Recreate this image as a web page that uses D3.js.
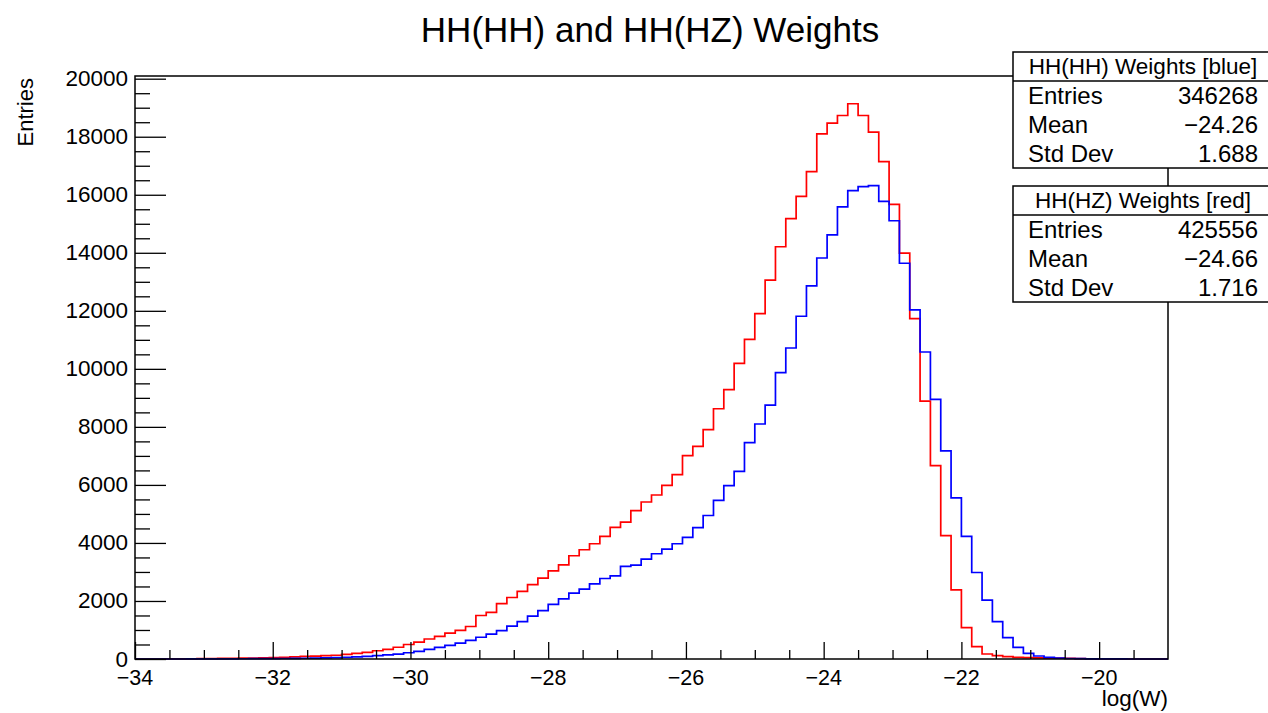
<!DOCTYPE html>
<html>
<head>
<meta charset="utf-8">
<script src="https://cdn.jsdelivr.net/npm/d3@7"></script>
<style>
  body { margin: 0; background: #fff; }
  svg { display: block; }
  text { font-family: "Liberation Sans", Arial, Helvetica, sans-serif; fill: #000; }
</style>
</head>
<body>
<svg id="plot" width="1268" height="713"></svg>
<script>
// histogram binning (log(W) axis)
var xLow = -34, xHigh = -19, nBins = 100;

// HH(HH) weights, blue
var hhCounts = [
	0, 0, 0, 0, 0, 2, 3, 4, 5, 6,
	8, 10, 12, 14, 17, 20, 25, 30, 36, 44,
	60, 75, 92, 115, 140, 170, 215, 265, 330, 400,
	470, 545, 640, 750, 860, 980, 1130, 1290, 1480, 1670,
	1880, 2073, 2268, 2406, 2591, 2775, 2867, 3189, 3236, 3443,
	3627, 3789, 3972, 4191, 4530, 4945, 5469, 5976, 6465, 7460,
	8100, 8750, 9868, 10719, 11813, 12861, 13820, 14615, 15580, 16143,
	16281, 16316, 15775, 15105, 13640, 12031, 10580, 8946, 7174, 5550,
	4225, 2981, 2027, 1289, 737, 403, 196, 104, 55, 30,
	18, 10, 6, 3, 2, 1, 0, 0, 0, 0
];

// HH(HZ) weights, red
var hzCounts = [
	0, 0, 0, 2, 4, 6, 10, 14, 20, 25,
	30, 35, 42, 48, 55, 75, 88, 100, 115, 130,
	160, 195, 230, 285, 335, 405, 500, 580, 690, 780,
	890, 990, 1120, 1500, 1610, 1910, 2120, 2330, 2560, 2790,
	3040, 3247, 3558, 3765, 3972, 4225, 4536, 4720, 5112, 5411,
	5653, 5987, 6356, 7012, 7330, 7905, 8625, 9285, 10190, 11019,
	11906, 13057, 14208, 15176, 15947, 16799, 18100, 18469, 18732, 19136,
	18732, 18158, 17145, 15671, 13990, 11734, 8888, 6667, 4249, 2383,
	1082, 426, 173, 115, 81, 55, 45, 38, 32, 28,
	22, 15, 8, 4, 2, 1, 0, 0, 0, 0
];

var xMajorTicks = [-34, -32, -30, -28, -26, -24, -22, -20];
var yMajorTicks = [0, 2000, 4000, 6000, 8000, 10000, 12000, 14000, 16000, 18000, 20000];
var yMax = 20093;

var statLabels = ["Entries", "Mean", "Std Dev"];
var hhStats = ["346268", "\u221224.26", "1.688"];
var hzStats = ["425556", "\u221224.66", "1.716"];

var titleText = "HH(HH) and HH(HZ) Weights";

function whenDocumentLoaded(action) {
	if (document.readyState === "loading") {
		document.addEventListener("DOMContentLoaded", action);
	} else {
		action();
	}
}

function minusFmt(v) {
	return v < 0 ? "\u2212" + Math.abs(v) : String(v);
}

whenDocumentLoaded(() => {
	var svg = d3.select("#plot");
	var left = 135, right = 1168, top = 76, bottom = 659;

	var xscale = d3.scaleLinear().domain([xLow, xHigh]).range([left, right]);
	var yscale = d3.scaleLinear().domain([0, yMax]).range([bottom, top]);
	var binW = (xHigh - xLow) / nBins;

	// title
	svg.append("text")
		.attr("x", 650).attr("y", 42)
		.attr("text-anchor", "middle")
		.style("font-size", "35px")
		.text(titleText);

	// histogram step lines
	function stepPath(counts) {
		var p = d3.path();
		p.moveTo(xscale(xLow), yscale(counts[0]));
		for (var i = 0; i < counts.length; i++) {
			if (i > 0) p.lineTo(xscale(xLow + i * binW), yscale(counts[i]));
			p.lineTo(xscale(xLow + (i + 1) * binW), yscale(counts[i]));
		}
		return p.toString();
	}

	svg.append("path")
		.attr("d", stepPath(hzCounts))
		.attr("fill", "none")
		.attr("stroke", "#ff0000")
		.attr("stroke-width", 1.7);
	svg.append("path")
		.attr("d", stepPath(hhCounts))
		.attr("fill", "none")
		.attr("stroke", "#0000ff")
		.attr("stroke-width", 1.7);

	// frame
	svg.append("rect")
		.attr("x", left).attr("y", top)
		.attr("width", right - left).attr("height", bottom - top)
		.attr("fill", "none").attr("stroke", "#000").attr("stroke-width", 1.5);

	// x axis: ticks inward (up), ROOT style
	var xAxis = d3.axisTop(xscale)
		.tickValues(xMajorTicks)
		.tickSize(17)
		.tickFormat("");
	svg.append("g").attr("transform", "translate(0," + bottom + ")").call(xAxis)
		.call(g => g.select(".domain").remove());
	var xMinor = d3.range(xLow, -19.5 + 0.001, 0.5).filter(v => xMajorTicks.indexOf(v) < 0);
	svg.append("g").attr("transform", "translate(0," + bottom + ")")
		.call(d3.axisTop(xscale).tickValues(xMinor).tickSize(9).tickFormat(""))
		.call(g => g.select(".domain").remove());
	svg.selectAll(".tick line").attr("stroke", "#000").attr("stroke-width", 1.3);

	svg.append("g").selectAll("text")
		.data(xMajorTicks)
		.enter().append("text")
		.attr("x", d => xscale(d))
		.attr("y", 685)
		.attr("text-anchor", "middle")
		.style("font-size", "21.5px")
		.text(d => minusFmt(d));

	// y axis: ticks inward (right)
	var yAxis = d3.axisRight(yscale).tickValues(yMajorTicks).tickSize(31).tickFormat("");
	svg.append("g").attr("transform", "translate(" + left + ",0)").call(yAxis)
		.call(g => g.select(".domain").remove());
	var yMinor = d3.range(0, 20001, 500).filter(v => yMajorTicks.indexOf(v) < 0);
	svg.append("g").attr("transform", "translate(" + left + ",0)")
		.call(d3.axisRight(yscale).tickValues(yMinor).tickSize(15).tickFormat(""))
		.call(g => g.select(".domain").remove());
	svg.selectAll(".tick line").attr("stroke", "#000").attr("stroke-width", 1.3);

	svg.append("g").selectAll("text")
		.data(yMajorTicks)
		.enter().append("text")
		.attr("x", 128)
		.attr("y", d => yscale(d) + 7.5)
		.attr("text-anchor", "end")
		.style("font-size", "22.5px")
		.text(d => d);

	// axis titles
	svg.append("text")
		.attr("transform", "translate(33,78) rotate(-90)")
		.attr("text-anchor", "end")
		.style("font-size", "22px")
		.text("Entries");
	svg.append("text")
		.attr("x", 1168).attr("y", 706)
		.attr("text-anchor", "end")
		.style("font-size", "22.5px")
		.text("log(W)");

	// stats boxes
	function statBox(y0, header, vals) {
		var g = svg.append("g");
		var bx = 1013, bw = 260, hh = 29, rowH = 29;
		g.append("rect")
			.attr("x", bx).attr("y", y0).attr("width", bw).attr("height", hh + 3 * rowH)
			.attr("fill", "#fff").attr("stroke", "#000").attr("stroke-width", 1.5);
		g.append("line")
			.attr("x1", bx).attr("x2", bx + bw)
			.attr("y1", y0 + hh).attr("y2", y0 + hh)
			.attr("stroke", "#000").attr("stroke-width", 1.5);
		g.append("text")
			.attr("x", 1143).attr("y", y0 + 22)
			.attr("text-anchor", "middle")
			.style("font-size", "22.5px")
			.text(header);
		statLabels.forEach((lab, i) => {
			var by = y0 + hh + rowH * i + 23;
			g.append("text").attr("x", 1028).attr("y", by)
				.style("font-size", "24px").text(lab);
			g.append("text").attr("x", 1258).attr("y", by)
				.attr("text-anchor", "end")
				.style("font-size", "24px").text(vals[i]);
		});
	}
	statBox(52, "HH(HH) Weights [blue]", hhStats);
	statBox(186, "HH(HZ) Weights [red]", hzStats);
});
</script>
</body>
</html>
